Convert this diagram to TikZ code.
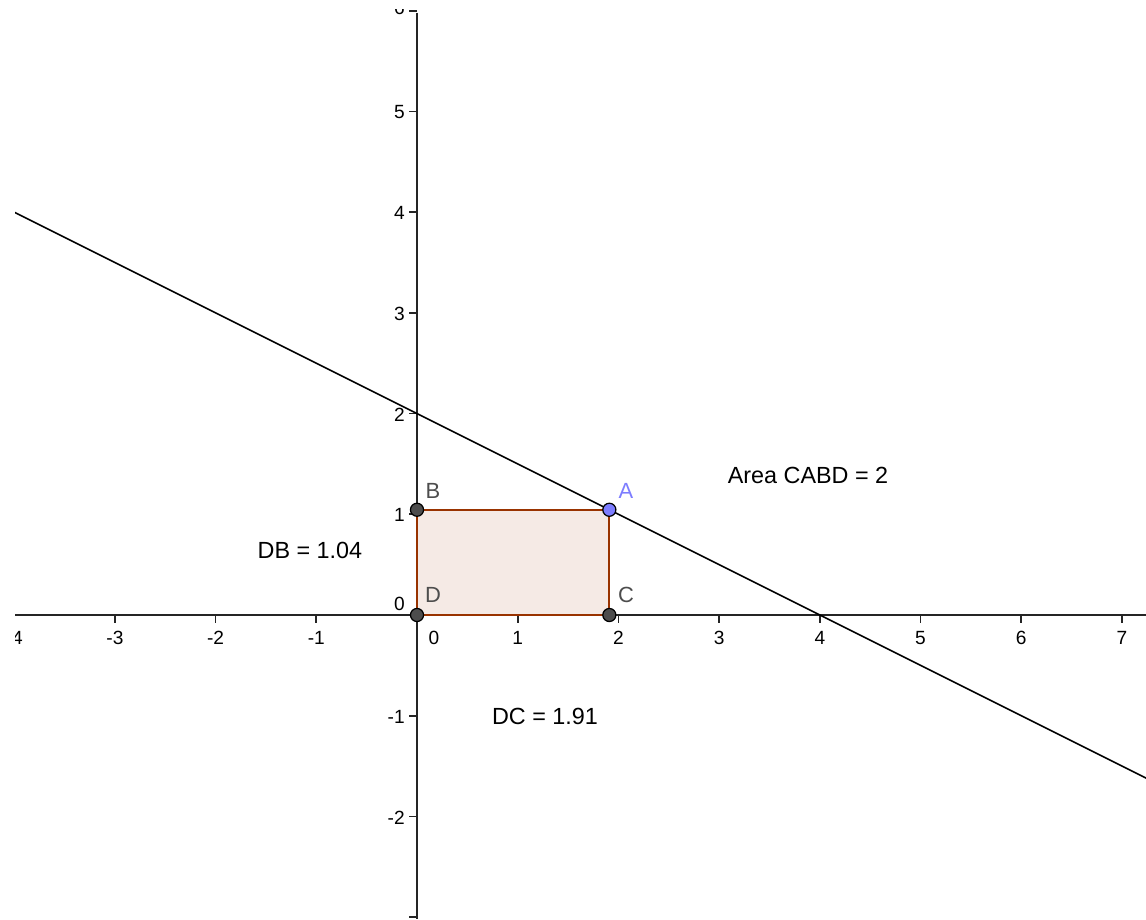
\documentclass[tikz,border=0pt]{standalone}
\usepackage{fontspec}
\setmainfont{Liberation Sans}
\definecolor{axiscol}{RGB}{37,37,37}
\definecolor{polycol}{RGB}{153,51,0}
\definecolor{ptgray}{RGB}{77,77,77}
\definecolor{ptblue}{RGB}{125,125,255}
\tikzset{
  axisline/.style={draw=axiscol, line width=0.55pt},
  tickmark/.style={draw=axiscol, line width=0.5pt},
  ticklab/.style={font=\fontsize{5.4}{6.4}\selectfont, text=black, inner sep=0pt},
  ptdot/.style={circle, draw=black, line width=0.35pt, fill=ptgray, minimum size=0.13cm, inner sep=0pt},
  ptdotA/.style={ptdot, fill=ptblue},
  ptlab/.style={font=\fontsize{6.2}{7.2}\selectfont, text=ptgray, inner sep=0pt},
  infolab/.style={font=\fontsize{6.6}{7.6}\selectfont, text=black, inner sep=0pt},
}
\begin{document}
\begin{tikzpicture}
\useasboundingbox (-4.141,-3.019) rectangle (7.239,6.107);
\clip (-3.992,-3.019) rectangle (7.239,6.008);
% axes
\coordinate (xl) at (-3.992,0);
\coordinate (xr) at (7.239,0);
\coordinate (yt) at (0,5.978);
\coordinate (yb) at (0,-3.019);
\draw[axisline] (xl) -- (xr);
\draw[axisline] (yt) -- (yb);
% x ticks
\foreach \x in {-4,-3,-2,-1,1,2,3,4,5,6,7} {
  \draw[tickmark] (\x,0) -- (\x,-0.08);
}
\foreach \x in {-4,-3,-2,-1,1,2,3,4,5,6,7} {
  \node[ticklab] at (\x,-0.228) {\x};
}
\node[ticklab] (x0) at (0.169,-0.228) {0};
% y ticks
\foreach \y in {-3,-2,-1,1,2,3,4,5,6} {
  \draw[tickmark] (0,\y) -- (-0.075,\y);
}
\foreach \y in {-2,-1,1,2,3,4,5} {
  \node[ticklab, anchor=east] at (-0.115,\y-0.01) {\y};
}
\node[ticklab, anchor=east] (y6) at (-0.115,6.03) {6};
\node[ticklab, anchor=east] (y0) at (-0.115,0.109) {0};
% points
\coordinate (Dp) at (0,0);
\coordinate (Cp) at (1.91,0);
\coordinate (Ap) at (1.91,1.045);
\coordinate (Bp) at (0,1.045);
% rectangle
\filldraw[draw=polycol, fill=polycol, fill opacity=0.1, line width=0.6pt, line join=round]
  (Cp) -- (Ap) -- (Bp) -- (Dp) -- cycle;
% line y = 2 - x/2
\coordinate (L1) at (-4.2,4.1);
\coordinate (L2) at (7.3,-1.65);
\draw[black, line width=0.45pt] (L1) -- (L2);
% point markers
\node[ptdot] (D) at (Dp) {};
\node[ptdot] (C) at (Cp) {};
\node[ptdot] (B) at (Bp) {};
\node[ptdotA] (A) at (Ap) {};
% point labels
\node[ptlab, text=ptblue] (Alab) at (2.075,1.231) {A};
\node[ptlab] (Blab) at (0.159,1.231) {B};
\node[ptlab] (Dlab) at (0.159,0.199) {D};
\node[ptlab] (Clab) at (2.075,0.199) {C};
% info labels
\node[infolab] (area) at (3.883,1.390) {Area CABD = 2};
\node[infolab] (db) at (-1.063,0.636) {DB = 1.04};
\node[infolab] (dc) at (1.271,-1.003) {DC = 1.91};
\end{tikzpicture}
\end{document}
